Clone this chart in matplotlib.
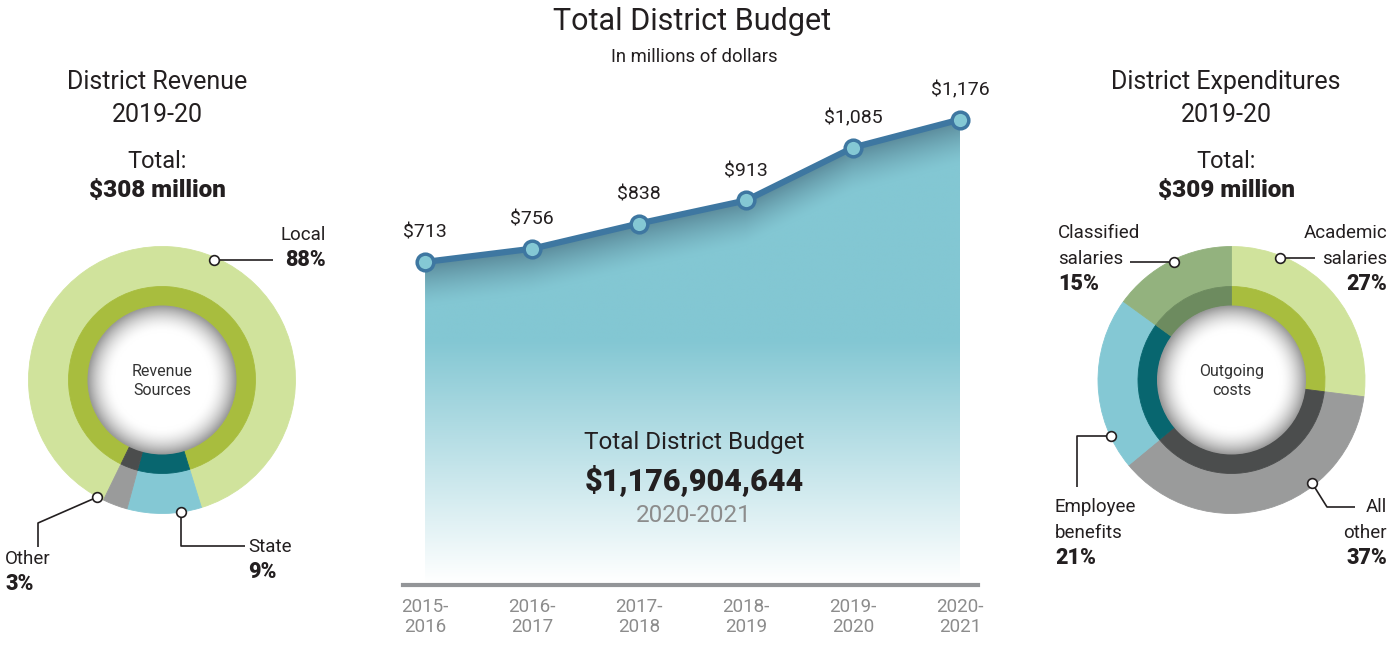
import numpy as np
import matplotlib.pyplot as plt
from matplotlib.patches import Circle

W, H = 1398, 649
plt.rcParams['font.family'] = ['Roboto', 'DejaVu Sans']
INK = '#231F20'

# --- data ---
years = ['2015-\n2016', '2016-\n2017', '2017-\n2018', '2018-\n2019', '2019-\n2020', '2020-\n2021']
budget = [713, 756, 838, 913, 1085, 1176]
budget_labels = ['\\$713', '\\$756', '\\$838', '\\$913', '\\$1,085', '\\$1,176']

rev_names = ['Local', 'State', 'Other']
rev_pct = [88, 9, 3]
rev_outer = ['#D0E39C', '#84C8D4', '#9A9B9B']
rev_inner = ['#A8BD3E', '#08666F', '#4B4D4D']

exp_names = ['Academic\nsalaries', 'All\nother', 'Employee\nbenefits', 'Classified\nsalaries']
exp_pct = [27, 37, 21, 15]
exp_outer = ['#D0E39C', '#9A9B9B', '#84C8D4', '#93B27E']
exp_inner = ['#A8BD3E', '#4B4D4D', '#08666F', '#6D8B5F']


def px(x, y):
    # pixel position (from top-left) -> figure fraction
    return x / W, 1 - y / H


fig = plt.figure(figsize=(W / 100, H / 100), dpi=100)
bg = fig.add_axes([0, 0, 1, 1])


def donut(cx, cy, values, outer, inner, start):
    c = (cx, H - cy)
    w1, _ = bg.pie(values, radius=133.5, center=c, startangle=start, counterclock=False,
                   colors=outer, wedgeprops=dict(width=40))
    w2, _ = bg.pie(values, radius=93.5, center=c, startangle=start, counterclock=False,
                   colors=inner, wedgeprops=dict(width=19.5))
    for w in w1 + w2:
        w.set_edgecolor(w.get_facecolor())
        w.set_linewidth(0.6)
    # white centre with soft inner shadow
    g = np.linspace(-75, 75, 220)
    xx, yy = np.meshgrid(g, g)
    r = np.hypot(xx, yy)
    t = np.clip((r - 48) / (74.5 - 48), 0, 1) ** 1.8
    shade = 1 - 0.40 * t
    img = np.dstack([shade, shade, shade, np.ones_like(shade)])
    im = bg.imshow(img, extent=[cx - 75, cx + 75, H - cy - 75, H - cy + 75],
                   origin='lower', interpolation='bilinear', zorder=3)
    im.set_clip_path(Circle(c, 74.5, transform=bg.transData))


def marker(cx, cy, ang, r=131):
    a = np.deg2rad(ang)
    return cx + r * np.cos(a), cy - r * np.sin(a)


def leader(points):
    xs_ = [p[0] for p in points]
    ys_ = [H - p[1] for p in points]
    bg.plot(xs_, ys_, color=INK, lw=1.2, zorder=4, solid_capstyle='butt')
    bg.plot(xs_[0], ys_[0], 'o', ms=7, mfc='white', mec=INK, mew=1.2, zorder=5)


# left donut: revenue
donut(162, 380, rev_pct, rev_outer, rev_inner, 244)
m = marker(162, 380, 66.6)
leader([m, (273, m[1])])
m = marker(162, 380, -81.8, 133)
leader([m, (m[0], 546), (245, 546)])
m = marker(162, 380, -119, 134)
leader([m, (38, 523), (38, 547)])

# right donut: expenditures
donut(1231.5, 380, exp_pct, exp_outer, exp_inner, 90)
m = marker(1231.5, 380, 68.5)
leader([m, (1315, m[1])])
m = marker(1231.5, 380, 115.8)
leader([m, (1130, m[1])])
m = marker(1231.5, 380, -155, 133)
leader([m, (1077, m[1]), (1077, 487)])
m = marker(1231.5, 380, -52)
leader([m, (1327, 507), (1355, 507)])

bg.set_xlim(0, W)
bg.set_ylim(0, H)
bg.set_aspect('auto')
bg.set_position([0, 0, 1, 1])
bg.axis('off')

# --- middle: total budget line ---
L, R, T, B = 403, 978, 90, 585
ax = fig.add_axes([L / W, (H - B) / H, (R - L) / W, (B - T) / H])
ax.patch.set_alpha(0)
xs = np.arange(len(budget))
ylo, yhi = -337, 1272
ax.set_xlim(-0.206, 5.168)
ax.set_ylim(ylo, yhi)

ny, nx = 520, 560
gx = np.linspace(0, xs[-1], nx)
gv = np.linspace(ylo, max(budget), ny)
X, V = np.meshgrid(gx, gv)
top = np.interp(X, xs, budget)
ppu = (B - T) / (yhi - ylo)
d = (top - V) * ppu
f = np.clip((459 - V) / (459 + 327), 0, 1)[..., None]
teal = np.array([131, 199, 211]) / 255
base = teal * (1 - f) + f
s = (np.clip(1 - d / 45, 0, 1) ** 1.4 * 0.55)[..., None]
dark = np.array([55, 85, 105]) / 255
col = base * (1 - s) + dark * s
alpha = (d >= -3).astype(float)
im = ax.imshow(np.dstack([col, alpha]), extent=[0, xs[-1], ylo, max(budget)],
               origin='lower', aspect='auto', interpolation='bilinear', zorder=1)
poly = ax.fill_between(xs, budget, ylo, color='none', lw=0)
im.set_clip_path(poly.get_paths()[0], transform=ax.transData)

ax.plot(xs, budget, color='#3E77A1', lw=4.5, zorder=3, marker='o', ms=12,
        mfc='#84C8D4', mec='#3E77A1', mew=2.5)
for x, v, lab in zip(xs, budget, budget_labels):
    ax.annotate(lab, (x, v), xytext=(0, 21), textcoords='offset points',
                ha='center', va='center', fontsize=14, color=INK)

for side in ['left', 'right', 'top']:
    ax.spines[side].set_visible(False)
ax.spines['bottom'].set_color('#939598')
ax.spines['bottom'].set_linewidth(3)
ax.set_yticks([])
ax.set_xticks(xs, years)
ax.tick_params(axis='x', length=0, pad=9, labelsize=13.5, labelcolor='#8C8C8C')

# --- text ---
fig.text(*px(692, 22), 'Total District Budget', fontsize=22, ha='center', va='center', color=INK)
fig.text(*px(694, 57), 'In millions of dollars', fontsize=13.3, ha='center', va='center', color=INK)

fig.text(*px(694, 443), 'Total District Budget', fontsize=17.5, ha='center', va='center', color=INK)
fig.text(*px(694, 480), '\\$1,176,904,644', fontsize=22, fontweight='black', ha='center', va='center', color=INK)
fig.text(*px(694, 515), '2020-2021', fontsize=17.5, ha='center', va='center', color='#8C8C8C')

for cx, title, total in [(157, 'District Revenue', '\\$308 million'),
                         (1226, 'District Expenditures', '\\$309 million')]:
    fig.text(*px(cx, 82), title, fontsize=18, ha='center', va='center', color=INK)
    fig.text(*px(cx, 115), '2019-20', fontsize=18, ha='center', va='center', color=INK)
    fig.text(*px(cx, 162), 'Total:', fontsize=17, ha='center', va='center', color=INK)
    fig.text(*px(cx, 191), total, fontsize=17.5, fontweight='black', ha='center', va='center', color=INK)

for cx, lab in [(162, 'Revenue\nSources'), (1231.5, 'Outgoing\ncosts')]:
    fig.text(*px(cx, 381), lab, fontsize=11.5, ha='center', va='center', color='#333333', linespacing=1.35)


def label(x, y, name, pct, ha):
    lines = name.split('\n')
    for i, ln in enumerate(lines):
        fig.text(*px(x, y + i * 25.5), ln, fontsize=13.5, ha=ha, va='center', color=INK)
    fig.text(*px(x, y + len(lines) * 25.5), f'{pct}%', fontsize=15.5, fontweight='black',
             ha=ha, va='center', color=INK)


label(326, 235, rev_names[0], rev_pct[0], 'right')
label(248, 547, rev_names[1], rev_pct[1], 'left')
label(5, 559, rev_names[2], rev_pct[2], 'left')
label(1387, 233, exp_names[0], exp_pct[0], 'right')
label(1387, 507, exp_names[1], exp_pct[1], 'right')
label(1055, 507, exp_names[2], exp_pct[2], 'left')
label(1058, 233, exp_names[3], exp_pct[3], 'left')

fig.savefig('out.png', dpi=100)
